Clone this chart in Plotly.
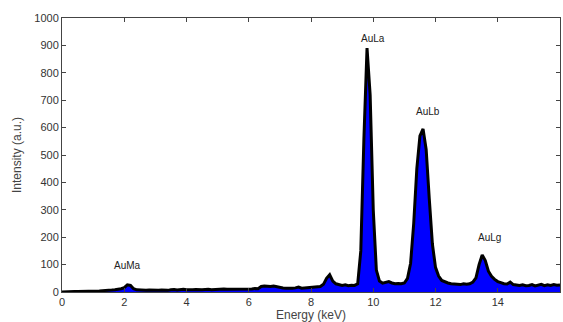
import plotly.graph_objects as go

energy = [round(i * 0.1, 1) for i in range(161)]
counts = [
    0, 1, 2, 2, 2, 2, 2, 3, 3, 3,          # 0.0-0.9
    4, 4, 4, 5, 5, 6, 7, 8, 9, 12,        # 1.0-1.9
    16, 26, 24, 12, 8, 7, 6, 6, 7, 6,      # 2.0-2.9
    6, 6, 7, 6, 6, 8, 9, 7, 8, 10,         # 3.0-3.9
    8, 7, 8, 9, 8, 8, 9, 10, 8, 9,         # 4.0-4.9
    10, 9, 11, 10, 10, 12, 11, 10, 12, 11, # 5.0-5.9
    12, 11, 13, 12, 20, 22, 21, 20, 22, 19,# 6.0-6.9
    17, 15, 14, 13, 14, 15, 18, 14, 15, 16,# 7.0-7.9
    15, 17, 18, 20, 28, 50, 63, 40, 30, 26,# 8.0-8.9
    24, 26, 23, 25, 24, 30, 150, 560, 890, 720, # 9.0-9.9
    300, 80, 40, 32, 34, 38, 33, 30, 31, 30,    # 10.0-10.9
    33, 50, 105, 250, 450, 570, 595, 520, 340, 175, # 11.0-11.9
    90, 58, 42, 36, 33, 30, 29, 28, 27, 30,     # 12.0-12.9
    28, 30, 36, 52, 100, 135, 115, 76, 57, 46,  # 13.0-13.9
    38, 34, 30, 29, 36, 27, 25, 24, 26, 23,     # 14.0-14.9
    24, 27, 22, 25, 28, 23, 26, 24, 27, 25, 26  # 15.0-16.0
]

peak_labels = ["AuMa", "AuLa", "AuLb", "AuLg"]
peak_x = [2.09, 9.99, 11.76, 13.75]
peak_y = [95, 927, 657, 200]

x_ticks = list(range(0, 17, 2))
y_ticks = list(range(0, 1001, 100))

FONT = "Liberation Sans, Arial"

fig = go.Figure()
fig.add_trace(go.Scatter(
    x=energy, y=counts, mode="lines", fill="tozeroy",
    fillcolor="#0000ff", line=dict(color="black", width=3),
    showlegend=False, hoverinfo="skip"))

for lab, px, py in zip(peak_labels, peak_x, peak_y):
    fig.add_annotation(x=px, y=py, text=lab, showarrow=False,
                       font=dict(family=FONT, size=10, color="#222222"),
                       yanchor="middle")

axis_common = dict(showline=True, linecolor="#444444", linewidth=1, mirror="ticks",
                   ticks="inside", ticklen=4, tickcolor="#444444", showgrid=False,
                   zeroline=False, automargin=False,
                   tickfont=dict(family=FONT, size=11, color="#333333"))

fig.update_xaxes(range=[0, 16], tickvals=x_ticks,
                 title=dict(text="Energy (keV)", font=dict(family=FONT, size=12, color="#444444"), standoff=4),
                 **axis_common)
fig.update_yaxes(range=[0, 1000], tickvals=y_ticks,
                 title=dict(text="Intensity (a.u.)", font=dict(family=FONT, size=12, color="#444444"), standoff=10),
                 **axis_common)

fig.update_layout(width=563, height=322, margin=dict(l=62, r=3, t=18, b=30),
                  paper_bgcolor="white", plot_bgcolor="white")

# remove the default 8px page margin so the figure fills the window exactly
fig.write_html("out.html", config={"displayModeBar": False},
               post_script="document.body.style.margin='0';document.body.style.overflow='hidden';")
